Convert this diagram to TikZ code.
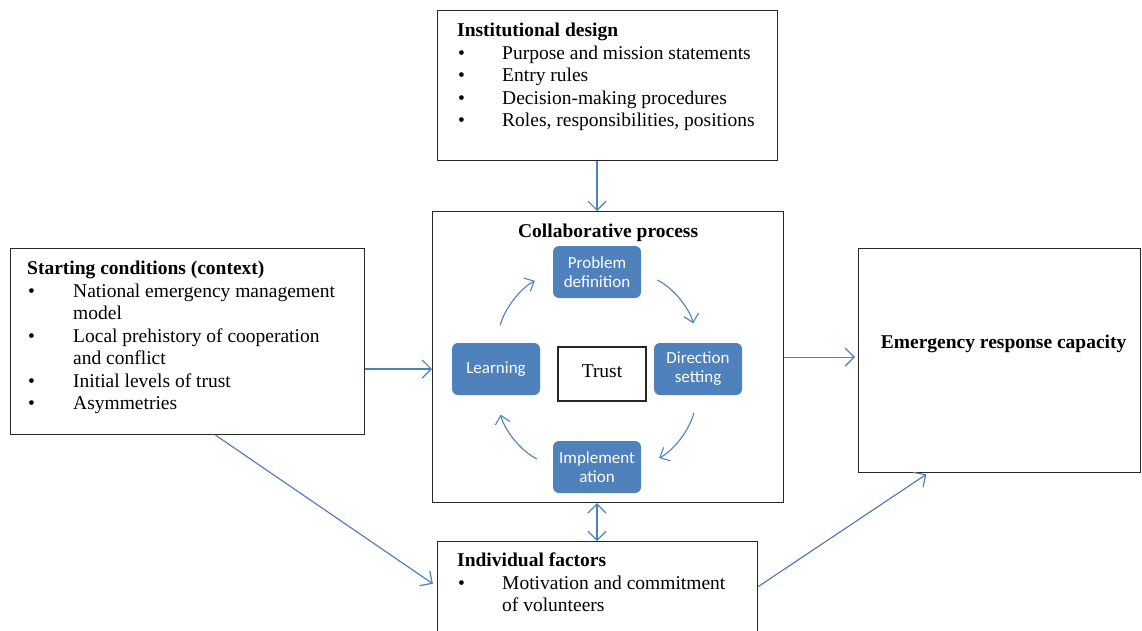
\documentclass[tikz,border=0pt]{standalone}
\usepackage{fontspec}
\setmainfont{Liberation Serif}
\newfontfamily\phasenschrift{Carlito}
\usetikzlibrary{positioning,arrows.meta}
\definecolor{pfeilblau}{RGB}{79,129,189}
\definecolor{phasenblau}{RGB}{79,129,189}
\newcommand{\punkt}{\hspace{1pt}\textbullet}

\begin{document}
\begin{tikzpicture}[x=1pt,y=-1pt,
    font=\fontsize{19.5}{22.5}\selectfont,
    rahmen/.style={draw=black!85,line width=1.2pt,inner sep=0pt,anchor=north west},
    liste/.style={inner sep=0pt,anchor=north west},
    phase/.style={fill=phasenblau,rounded corners=6pt,minimum width=88pt,minimum height=52pt,
      inner sep=2pt,text=white,align=center,font=\phasenschrift\fontsize{17}{19}\selectfont},
    pfeil/.style={draw=pfeilblau,line width=1.2pt,-{Straight Barb[length=9pt,width=18pt]}},
    dpfeil/.style={draw=pfeilblau,line width=1.2pt,
      {Straight Barb[length=9pt,width=18pt]}-{Straight Barb[length=9pt,width=18pt]}},
    kreis/.style={draw=pfeilblau,line width=1.1pt,-{Straight Barb[length=8pt,width=15pt]},
      shorten <=18pt,shorten >=20pt}]
  \useasboundingbox (0,0) rectangle (1142,630);
  % Institutionelles Design
  \node[rahmen,minimum width=340pt,minimum height=150pt] (inst) at (437,10) {};
  \node[liste] (insttext) at ([xshift=20pt,yshift=-11pt]inst.north west) {%
    \begin{tabular}{@{}p{45pt}@{}l@{}}
      \multicolumn{2}{@{}l@{}}{\textbf{Institutional design}}\\
      \punkt & Purpose and mission statements\\
      \punkt & Entry rules\\
      \punkt & Decision-making procedures\\
      \punkt & Roles, responsibilities, positions
    \end{tabular}};
  % Ausgangsbedingungen
  \node[rahmen,minimum width=354pt,minimum height=186pt] (start) at (10,248) {};
  \node[liste] (starttext) at ([xshift=17pt,yshift=-11pt]start.north west) {%
    \begin{tabular}{@{}p{46pt}@{}l@{}}
      \multicolumn{2}{@{}l@{}}{\textbf{Starting conditions (context)}}\\
      \punkt & National emergency management\\
             & model\\
      \punkt & Local prehistory of cooperation\\
             & and conflict\\
      \punkt & Initial levels of trust\\
      \punkt & Asymmetries
    \end{tabular}};
  % Kollaborativer Prozess
  \node[rahmen,minimum width=351pt,minimum height=291pt] (collab) at (432,211) {};
  \node[inner sep=0pt,below=13pt of collab.north] (collabtitel) {\textbf{Collaborative process}};
  \node[phase] (prob) at (597,272) {Problem\\definition};
  \node[phase] (dir) at (698,369) {Direction\\setting};
  \node[phase] (impl) at (597,467) {Implement\\ation};
  \node[phase] (learn) at (496,369) {Learning};
  \node[draw=black!85,line width=1.2pt,minimum width=88pt,minimum height=54pt] (trust) at (602,374)
    {\raisebox{5pt}{Trust}};
  \draw[kreis] (learn.north) to[bend left=25] (prob.west);
  \draw[kreis] (prob.east) to[bend left=25] (dir.north);
  \draw[kreis] (dir.south) to[bend left=25] (impl.east);
  \draw[kreis] (impl.west) to[bend left=25] (learn.south);
  % Ergebnis
  \node[rahmen,minimum width=282pt,minimum height=224pt] (erc) at (858,248) {};
  \node[inner sep=0pt] (erctitel) at ([xshift=4pt,yshift=17pt]erc.center) {\textbf{Emergency response capacity}};
  % Individuelle Faktoren
  \node[rahmen,minimum width=320pt,minimum height=100pt] (indiv) at (437,541) {};
  \node[liste] (indivtext) at ([xshift=20pt,yshift=-10pt]indiv.north west) {%
    \begin{tabular}{@{}p{45pt}@{}l@{}}
      \multicolumn{2}{@{}l@{}}{\textbf{Individual factors}}\\
      \punkt & Motivation and commitment\\
             & of volunteers
    \end{tabular}};
  % Pfeile
  \draw[pfeil] (inst.south -| prob) -- (collab.north -| prob);
  \draw[pfeil] (start.east |- learn) -- (collab.west |- learn);
  \draw[pfeil,shorten >=3pt] (collab.east) -- (collab.east -| erc.west);
  \draw[pfeil,shorten >=5pt] ([xshift=28pt]start.south) -- ([yshift=5pt]indiv.west);
  \draw[pfeil,shorten >=2pt] ([yshift=5pt]indiv.east) -- ([xshift=70pt]erc.south west);
  \draw[dpfeil] (collab.south -| impl) -- (indiv.north -| impl);
\end{tikzpicture}
\end{document}
